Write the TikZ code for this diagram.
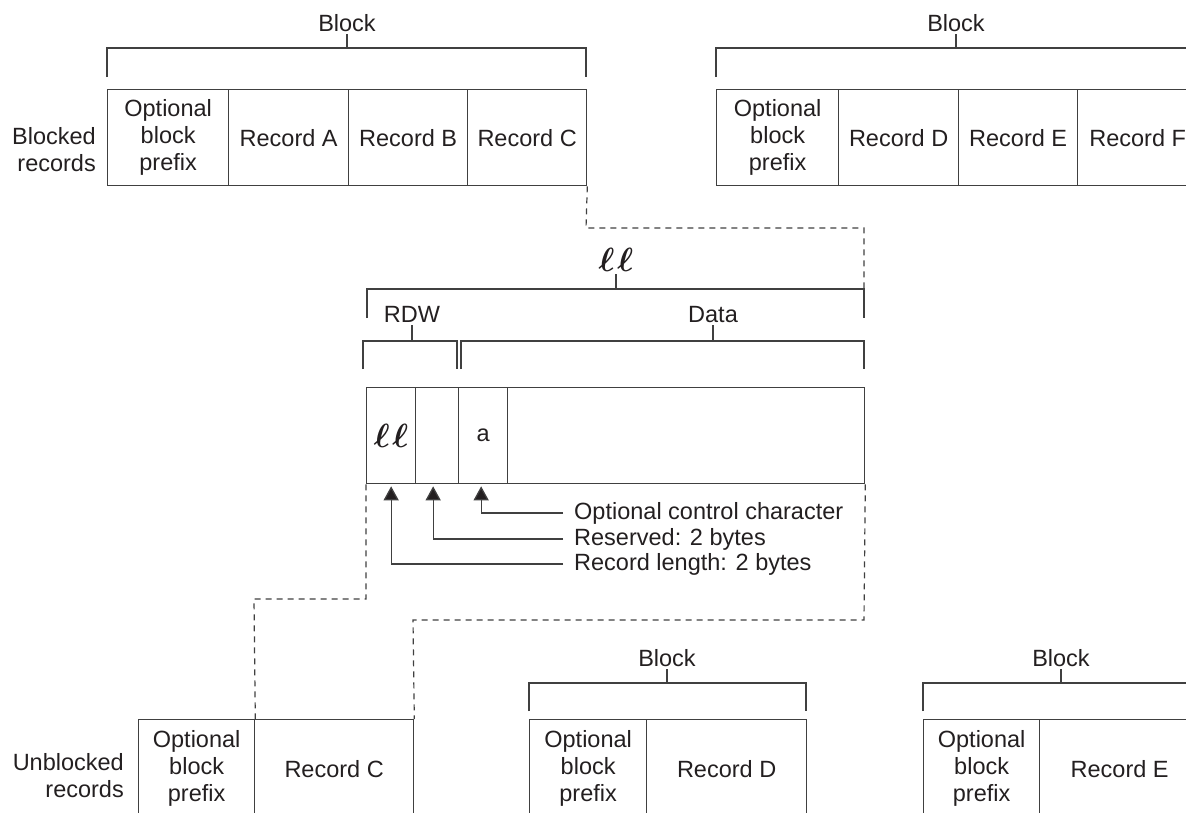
\documentclass[tikz,border=0pt]{standalone}
\usepackage{fontspec}
\usepackage{graphicx}
\setmainfont{Liberation Sans}
\usetikzlibrary{arrows.meta}
\definecolor{lncol}{gray}{0.25}
\definecolor{txcol}{HTML}{231F20}
\newcommand{\bigells}{\scalebox{1.35}{\boldmath$\ell\hspace{2pt}\ell$}}
\begin{document}
\begin{tikzpicture}[x=1pt,y=-1pt,
  every node/.style={font=\fontsize{23.5}{27}\selectfont, text=txcol},
  cell/.style={draw=lncol, line width=1.3pt, minimum height=96pt, inner sep=0pt, align=center, anchor=north west},
  lowcell/.style={cell, minimum height=98pt},
  lbl/.style={inner sep=2pt, anchor=south},
  side/.style={inner sep=0pt, align=right, anchor=east},
  note/.style={inner sep=0pt, anchor=west},
  ln/.style={draw=lncol, line width=1.3pt},
  dsh/.style={draw=lncol, line width=1.2pt, dash pattern=on 6pt off 5pt},
  arr/.style={ln, -{Triangle[width=15pt,length=14pt,fill=txcol]}}
]
\useasboundingbox (0,0) rectangle (1186,812);
\clip (0,0) rectangle (1186,812);

% ---------- top left block ----------
\node[side] (blk) at (96,150) {Blocked\\records};
\node[cell, minimum width=121pt] (p1) at (107,89) {Optional\\block\\prefix};
\node[cell, minimum width=120pt] (ra) at (228,89) {Record A};
\node[cell, minimum width=119pt] (rb) at (348,89) {Record B};
\node[cell, minimum width=119pt] (rc) at (467,89) {Record C};
\draw[ln] (107,77) |- (586,48) -- (586,77);
\coordinate (t1) at (347,48);
\node[lbl] (b1) at (347,34) {Block};
\draw[ln] (b1.south) -- (t1);

% ---------- top right block ----------
\node[cell, minimum width=122pt] (p2) at (716,89) {Optional\\block\\prefix};
\node[cell, minimum width=120pt] (rd) at (838,89) {Record D};
\node[cell, minimum width=119pt] (re) at (958,89) {Record E};
\node[cell, minimum width=120pt] (rf) at (1077,89) {Record F};
\draw[ln] (716,77) |- (1197,48) -- (1197,77);
\coordinate (t2) at (956,48);
\node[lbl] (b2) at (956,34) {Block};
\draw[ln] (b2.south) -- (t2);

% ---------- middle record ----------
\draw[dsh] (rc.south east) -- (586,228) -- (864,228) -- (864,289);
\draw[ln] (367,318) |- (864,289) -- (864,318);
\coordinate (t3) at (616,289);
\node[lbl] (ll) at (616,274) {\bigells};
\draw[ln] (ll.south) -- (t3);

\draw[ln] (363,369) |- (457,341) -- (457,369);
\coordinate (t4) at (412,341);
\node[lbl] (rdw) at (412,325) {RDW};
\draw[ln] (rdw.south) -- (t4);

\draw[ln] (461,369) |- (864,341) -- (864,369);
\coordinate (t5) at (713,341);
\node[lbl] (data) at (713,325) {Data};
\draw[ln] (data.south) -- (t5);

\node[cell, minimum width=49pt] (cll) at (366,387) {\bigells};
\node[cell, minimum width=43pt] (cres) at (415,387) {};
\node[cell, minimum width=49pt] (ca) at (458,387) {a};
\node[cell, minimum width=357pt] (cdata) at (507,387) {};

\node[note] (n1) at (574,513) {Optional control character};
\node[note] (n2) at (574,539) {Reserved: 2 bytes};
\node[note] (n3) at (574,564) {Record length: 2 bytes};
\draw[arr] ([xshift=-11pt]n1.west) -| ([xshift=-2pt,yshift=-2pt]ca.south);
\draw[arr] ([xshift=-11pt]n2.west) -| ([xshift=-4pt,yshift=-2pt]cres.south);
\draw[arr] ([xshift=-11pt]n3.west) -| ([yshift=-2pt]cll.south);

% ---------- bottom: unblocked ----------
\node[side] (ublk) at (124,776) {Unblocked\\records};
\node[lowcell, minimum width=116pt] (pu) at (138,719) {Optional\\block\\prefix};
\node[lowcell, minimum width=159pt] (rcu) at (254,719) {Record C};

\draw[dsh] (cll.south west) -- (366,599) -- (254,599) -- (pu.north east);
\draw[dsh] (cdata.south east) -- (864,620) -- (413,620) -- (rcu.north east);

% ---------- bottom middle block ----------
\node[lowcell, minimum width=117pt] (pd) at (529,719) {Optional\\block\\prefix};
\node[lowcell, minimum width=160pt] (rdu) at (646,719) {Record D};
\draw[ln] (529,711) |- (806,683) -- (806,711);
\coordinate (t6) at (667,683);
\node[lbl] (b3) at (667,669) {Block};
\draw[ln] (b3.south) -- (t6);

% ---------- bottom right block ----------
\node[lowcell, minimum width=116pt] (pe) at (923,719) {Optional\\block\\prefix};
\node[lowcell, minimum width=160pt] (reu) at (1039,719) {Record E};
\draw[ln] (923,711) |- (1199,683) -- (1199,711);
\coordinate (t7) at (1061,683);
\node[lbl] (b4) at (1061,669) {Block};
\draw[ln] (b4.south) -- (t7);
\end{tikzpicture}
\end{document}
